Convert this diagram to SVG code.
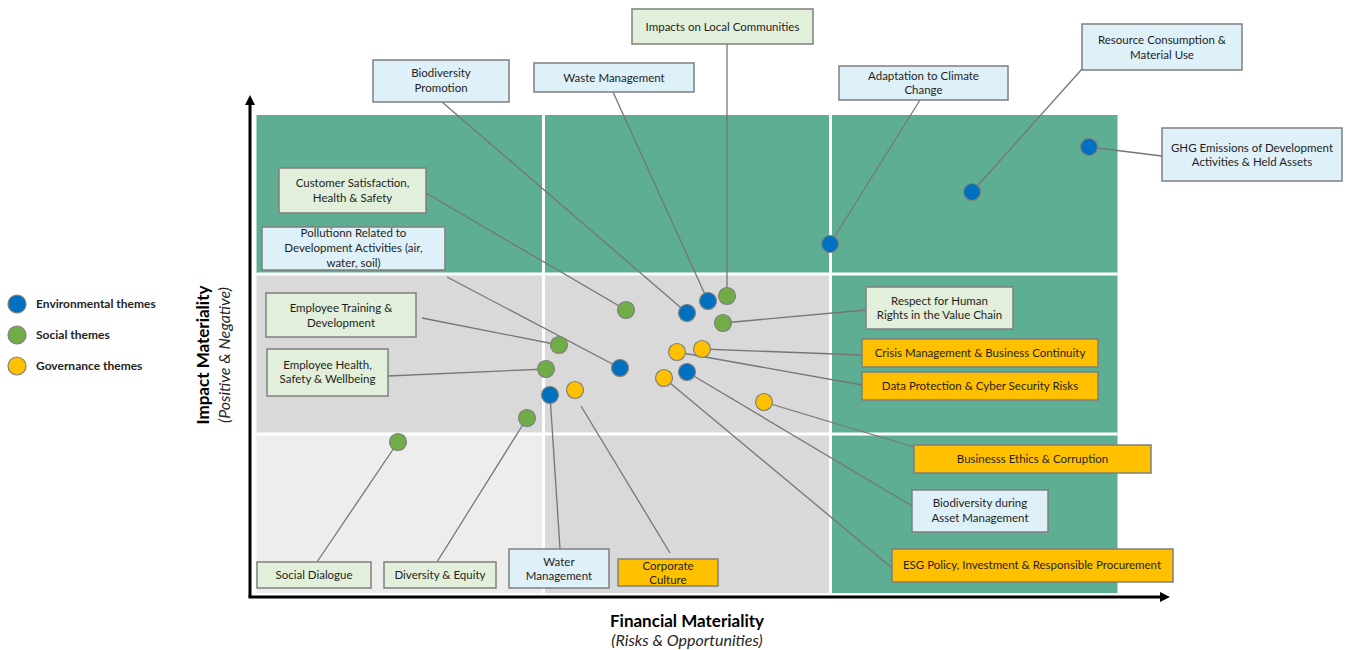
<svg xmlns="http://www.w3.org/2000/svg" width="1345" height="650" viewBox="0 0 1345 650">
<defs>
<style>
.bg{fill:#ffffff}
.cg{fill:#5eae93}
.cd{fill:#d9d9d9}
.cl{fill:#ededed}
.sep{stroke:#ffffff;stroke-width:3;fill:none}
.bx{stroke:#7f7f7f;stroke-width:1.5}
.bg-g{fill:#e2efda}
.bg-b{fill:#def0f8}
.bg-y{fill:#ffc000}
.t{font-family:Lato,"Liberation Sans",sans-serif;font-size:11.5px;fill:#1f1f1f;text-anchor:middle}
.lg{font-family:Lato,"Liberation Sans",sans-serif;font-size:12px;font-weight:bold;fill:#1f1f1f}
.ax{stroke:#000;stroke-width:3;fill:none}
.conn{stroke:#767676;stroke-width:1.3;fill:none}
.d{stroke:#7f7f7f;stroke-width:1.2}
.db{fill:#0070c0}
.dg{fill:#70ad47}
.dy{fill:#ffc000}
.ttl{font-family:Lato,"Liberation Sans",sans-serif;font-size:17px;font-weight:bold;fill:#000;text-anchor:middle}
.sub{font-family:Lato,"Liberation Sans",sans-serif;font-size:16px;font-style:italic;fill:#262626;text-anchor:middle}
</style>
<marker id="arr" viewBox="0 0 10 10" refX="2" refY="5" markerWidth="10" markerHeight="10" markerUnits="userSpaceOnUse" orient="auto">
<path d="M0,0 L10,5 L0,10 z" fill="#000"/>
</marker>
</defs>
<rect class="bg" x="0" y="0" width="1345" height="650"/>

<g id="grid">
<rect class="cg" x="256.5" y="115" width="861" height="158"/>
<rect class="cd" x="256.5" y="274" width="574" height="160"/>
<rect class="cg" x="830.5" y="274" width="287" height="160"/>
<rect class="cl" x="256.5" y="434" width="287" height="159"/>
<rect class="cd" x="543.5" y="434" width="287" height="159"/>
<rect class="cg" x="830.5" y="434" width="287" height="159"/>
<line class="sep" x1="543.5" y1="115" x2="543.5" y2="593"/>
<line class="sep" x1="830.5" y1="115" x2="830.5" y2="593"/>
<line class="sep" x1="256.5" y1="274" x2="1117.5" y2="274"/>
<line class="sep" x1="256.5" y1="434" x2="1117.5" y2="434"/>
</g>

<g id="axes">
<path class="ax" d="M250,597 L250,103" marker-end="url(#arr)"/>
<path class="ax" d="M248.5,597 L1162,597" marker-end="url(#arr)"/>
<text class="ttl" transform="translate(209,355) rotate(-90)">Impact Materiality</text>
<text class="sub" transform="translate(229.5,355) rotate(-90)">(Positive &amp; Negative)</text>
<text class="ttl" x="687" y="627">Financial Materiality</text>
<text class="sub" x="687" y="646">(Risks &amp; Opportunities)</text>
</g>

<g id="legend">
<circle class="d db" cx="17" cy="304" r="9"/>
<text class="lg" x="36" y="308">Environmental themes</text>
<circle class="d dg" cx="17" cy="335" r="9"/>
<text class="lg" x="36" y="339">Social themes</text>
<circle class="d dy" cx="17" cy="366" r="9"/>
<text class="lg" x="36" y="370">Governance themes</text>
</g>

<g id="connectors">
<line class="conn" x1="727" y1="44" x2="727" y2="296"/>
<line class="conn" x1="442" y1="102" x2="687" y2="313"/>
<line class="conn" x1="613" y1="92" x2="708" y2="301"/>
<line class="conn" x1="920" y1="100" x2="830" y2="244"/>
<line class="conn" x1="1082" y1="69" x2="972" y2="192"/>
<line class="conn" x1="1162" y1="156" x2="1089" y2="147"/>
<line class="conn" x1="426" y1="193" x2="626" y2="310"/>
<line class="conn" x1="447" y1="277" x2="620" y2="368"/>
<line class="conn" x1="422" y1="318" x2="559" y2="345"/>
<line class="conn" x1="388" y1="376" x2="546" y2="369"/>
<line class="conn" x1="866" y1="310" x2="723" y2="323"/>
<line class="conn" x1="862" y1="355" x2="702" y2="349"/>
<line class="conn" x1="862" y1="385" x2="677" y2="352"/>
<line class="conn" x1="914" y1="447" x2="764" y2="402"/>
<line class="conn" x1="912" y1="506" x2="687" y2="372"/>
<line class="conn" x1="892" y1="568" x2="664" y2="378"/>
<line class="conn" x1="317" y1="562" x2="398" y2="442"/>
<line class="conn" x1="437" y1="562" x2="527" y2="418"/>
<line class="conn" x1="560" y1="549" x2="550" y2="395"/>
<line class="conn" x1="581" y1="406" x2="670" y2="553"/>
</g>

<g id="n-impacts-local"><circle class="d dg" cx="727" cy="296" r="8.5"/><rect class="bx bg-g" x="632" y="9" width="181" height="35"/><text class="t" x="722.5" y="31">Impacts on Local Communities</text></g>
<g id="n-biodiv-promo"><circle class="d db" cx="687" cy="313" r="8.5"/><rect class="bx bg-b" x="373" y="60" width="136" height="42"/><text class="t" x="441" y="77">Biodiversity</text><text class="t" x="441" y="92">Promotion</text></g>
<g id="n-waste"><circle class="d db" cx="708" cy="301" r="8.5"/><rect class="bx bg-b" x="534" y="63" width="160" height="29"/><text class="t" x="614" y="82">Waste Management</text></g>
<g id="n-adaptation"><circle class="d db" cx="830" cy="244" r="8.5"/><rect class="bx bg-b" x="839" y="66" width="169" height="34"/><text class="t" x="923.5" y="80">Adaptation to Climate</text><text class="t" x="923.5" y="94">Change</text></g>
<g id="n-resource"><circle class="d db" cx="972" cy="192" r="8.5"/><rect class="bx bg-b" x="1082" y="24" width="160" height="46"/><text class="t" x="1162" y="44">Resource Consumption &amp;</text><text class="t" x="1162" y="59">Material Use</text></g>
<g id="n-ghg"><circle class="d db" cx="1089" cy="147" r="8.5"/><rect class="bx bg-b" x="1162" y="128" width="180" height="53"/><text class="t" x="1252" y="152">GHG Emissions of Development</text><text class="t" x="1252" y="166">Activities &amp; Held Assets</text></g>
<g id="n-customer"><circle class="d dg" cx="626" cy="310" r="8.5"/><rect class="bx bg-g" x="279" y="168" width="147" height="45"/><text class="t" x="352.5" y="187">Customer Satisfaction,</text><text class="t" x="352.5" y="202">Health &amp; Safety</text></g>
<g id="n-pollution"><circle class="d db" cx="620" cy="368" r="8.5"/><rect class="bx bg-b" x="262" y="227" width="183" height="43"/><text class="t" x="353.5" y="237">Pollutionn Related to</text><text class="t" x="353.5" y="252">Development Activities (air,</text><text class="t" x="353.5" y="267">water, soil)</text></g>
<g id="n-emp-training"><circle class="d dg" cx="559" cy="345" r="8.5"/><rect class="bx bg-g" x="266" y="293" width="150" height="44"/><text class="t" x="341" y="312">Employee Training &amp;</text><text class="t" x="341" y="327">Development</text></g>
<g id="n-emp-health"><circle class="d dg" cx="546" cy="369" r="8.5"/><rect class="bx bg-g" x="267" y="349" width="121" height="47"/><text class="t" x="327.5" y="369">Employee Health,</text><text class="t" x="327.5" y="383">Safety &amp; Wellbeing</text></g>
<g id="n-human-rights"><circle class="d dg" cx="723" cy="323" r="8.5"/><rect class="bx bg-g" x="866" y="287" width="147" height="42"/><text class="t" x="939.5" y="305">Respect for Human</text><text class="t" x="939.5" y="319">Rights in the Value Chain</text></g>
<g id="n-crisis"><circle class="d dy" cx="702" cy="349" r="8.5"/><rect class="bx bg-y" x="862" y="339" width="236" height="28"/><text class="t" x="980" y="357">Crisis Management &amp; Business Continuity</text></g>
<g id="n-data"><circle class="d dy" cx="677" cy="352" r="8.5"/><rect class="bx bg-y" x="862" y="372" width="236" height="28"/><text class="t" x="980" y="390">Data Protection &amp; Cyber Security Risks</text></g>
<g id="n-ethics"><circle class="d dy" cx="764" cy="402" r="8.5"/><rect class="bx bg-y" x="914" y="445" width="237" height="28"/><text class="t" x="1032.5" y="463">Businesss Ethics &amp; Corruption</text></g>
<g id="n-biodiv-asset"><circle class="d db" cx="687" cy="372" r="8.5"/><rect class="bx bg-b" x="912" y="490" width="136" height="42"/><text class="t" x="980" y="507">Biodiversity during</text><text class="t" x="980" y="522">Asset Management</text></g>
<g id="n-esg"><circle class="d dy" cx="664" cy="378" r="8.5"/><rect class="bx bg-y" x="892" y="549" width="281" height="33"/><text class="t" x="1032" y="569">ESG Policy, Investment &amp; Responsible Procurement</text></g>
<g id="n-social-dialogue"><circle class="d dg" cx="398" cy="442" r="8.5"/><rect class="bx bg-g" x="257" y="562" width="114" height="26"/><text class="t" x="314" y="579">Social Dialogue</text></g>
<g id="n-diversity"><circle class="d dg" cx="527" cy="418" r="8.5"/><rect class="bx bg-g" x="384" y="562" width="112" height="26"/><text class="t" x="440" y="579">Diversity &amp; Equity</text></g>
<g id="n-water"><circle class="d db" cx="550" cy="395" r="8.5"/><rect class="bx bg-b" x="509" y="549" width="100" height="39"/><text class="t" x="559" y="566">Water</text><text class="t" x="559" y="580">Management</text></g>
<g id="n-culture"><circle class="d dy" cx="575" cy="390" r="8.5"/><rect class="bx bg-y" x="618" y="559" width="100" height="27"/><text class="t" x="668" y="570">Corporate</text><text class="t" x="668" y="584">Culture</text></g>
</svg>
